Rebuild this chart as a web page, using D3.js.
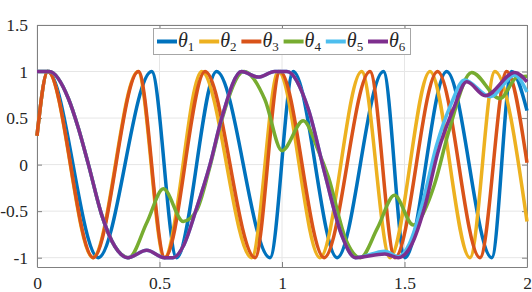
<!DOCTYPE html>
<html>
<head>
<meta charset="utf-8">
<script src="https://cdn.jsdelivr.net/npm/d3@7"></script>
<style>
  body { margin: 0; background: #fff; }
  svg text { font-family: "Liberation Serif", "DejaVu Serif", serif !important; fill: #262626; }
</style>
</head>
<body>
<svg width="532" height="292"></svg>
<script>
// values, [t, value]
const theta1 = [[0,0.31],[0.044,1],[0.25,-1],[0.468,1],[0.57,-1],[0.733,1],[0.951,-1],[1.046,1],
    [1.225,-1],[1.414,1],[1.502,-1],[1.672,1],[1.856,-1],[1.937,1],[2,0.58]];
const theta2 = [[0,0.31],[0.044,1],[0.228,-1],[0.412,1],[0.52,-1],[0.672,1],[0.876,-1],[0.985,1],
    [1.155,-1],[1.325,1],[1.441,-1],[1.604,1],[1.767,-1],[1.869,1],[2,-0.61]];
const theta3 = [[0,0.31],[0.044,1],[0.23,-1],[0.414,1],[0.522,-1],[0.686,1],[0.89,-1],[0.992,1],
    [1.172,-1],[1.359,1],[1.461,-1],[1.635,1],[1.808,-1],[1.917,1],[2,0.02]];
const theta4 = [[0,1],[0.05,1],[0.128,0.71],[0.169,0.39],[0.21,0],[0.264,-0.54],[0.318,-0.88],[0.375,-1],
    [0.449,-0.62],[0.516,-0.26],[0.597,-0.61],[0.65,-0.5],[0.706,-0.02],[0.754,0.48],[0.845,1],[0.93,0.7],
    [1.0,0.15],[1.087,0.47],[1.148,0.15],[1.19,-0.14],[1.26,-0.8],[1.32,-1],[1.39,-0.68],[1.459,-0.33],
    [1.536,-0.65],[1.6,-0.38],[1.624,-0.2],[1.68,0.35],[1.774,0.99],[1.89,0.71],[1.96,0.94],[2,0.95]];
const theta5 = [[0,1],[0.05,1],[0.128,0.71],[0.169,0.39],[0.21,0],[0.264,-0.54],[0.318,-0.88],[0.37,-1],
    [0.448,-0.92],[0.52,-1],[0.555,-1],[0.6,-0.86],[0.65,-0.48],[0.706,0],[0.754,0.5],[0.835,1],
    [0.903,0.94],[0.97,1],[1.02,1],[1.107,0.6],[1.176,-0.11],[1.244,-0.76],[1.3,-1],[1.42,-0.93],
    [1.475,-0.99],[1.52,-0.85],[1.575,-0.4],[1.63,0.2],[1.69,0.65],[1.745,0.91],[1.85,0.73],[1.95,0.96],[2,0.78]];
const theta6 = [[0,1],[0.05,1],[0.128,0.71],[0.169,0.39],[0.21,0],[0.264,-0.54],[0.318,-0.88],[0.37,-1],
    [0.448,-0.92],[0.52,-1],[0.555,-1],[0.6,-0.86],[0.65,-0.48],[0.706,0],[0.754,0.5],[0.835,1],
    [0.903,0.94],[0.97,1],[1.02,1],[1.107,0.6],[1.176,-0.11],[1.244,-0.76],[1.3,-1],[1.42,-0.96],
    [1.475,-1],[1.529,-0.86],[1.584,-0.44],[1.635,0.12],[1.7,0.6],[1.754,0.89],[1.83,0.74],[1.95,0.99],[2,0.89]];

const names = ["1", "2", "3", "4", "5", "6"];
const colors = ["#0072BD", "#EDB120", "#D95319", "#77AC30", "#4DBEEE", "#7E2F8E"];
const xTicks = [0, 0.5, 1, 1.5, 2];
const yTicks = [-1, -0.5, 0, 0.5, 1, 1.5];

const series = [theta1, theta2, theta3, theta4, theta5, theta6];

var svg = d3.select("svg"),
    x0 = 37, x1 = 527, y0 = 25, y1 = 267;

var x = d3.scaleLinear().domain([0, 2]).range([x0, x1]);
var y = d3.scaleLinear().domain([-1.1, 1.5]).range([y1, y0]);

// grid
svg.append("g")
    .selectAll("line")
    .data(xTicks).enter()
    .append("line")
    .attr("x1", d => x(d)).attr("x2", d => x(d))
    .attr("y1", y0).attr("y2", y1)
    .attr("stroke", "#e6e6e6");
svg.append("g")
    .selectAll("line")
    .data(yTicks).enter()
    .append("line")
    .attr("x1", x0).attr("x2", x1)
    .attr("y1", d => y(d)).attr("y2", d => y(d))
    .attr("stroke", "#e6e6e6");

var fmt = d => String(d);

var axes = [
    [d3.axisBottom(x), 0, y1, true],
    [d3.axisTop(x), 0, y0, false],
    [d3.axisLeft(y), x0, 0, true],
    [d3.axisRight(y), x1, 0, false]
];
axes.forEach(([ax, tx, ty, labels], i) => {
    var vals = i < 2 ? xTicks : yTicks;
    var g = svg.append("g")
        .attr("transform", "translate(" + tx + "," + ty + ")")
        .call(ax.tickValues(vals).tickSizeInner(-5).tickSizeOuter(0)
            .tickFormat(labels ? fmt : ""))
        .attr("font-family", null)
        .attr("font-size", null);
    g.select(".domain").attr("stroke", "#808080");
    g.selectAll(".tick line").attr("stroke", "#808080");
    g.selectAll(".tick text")
        .style("font-family", "'Liberation Serif', serif")
        .style("font-size", "17.5px")
        .attr("fill", "#262626");
    if (i === 0) g.selectAll(".tick text").attr("y", 10);
    if (i === 2) g.selectAll(".tick text").attr("x", -9);
});

var line = d3.line()
    .x(d => x(d[0]))
    .y(d => y(d[1]))
    .curve(d3.curveMonotoneX);

svg.append("g")
    .selectAll("path")
    .data(series).enter()
    .append("path")
    .attr("d", d => line(d))
    .attr("fill", "none")
    .attr("stroke", (d, i) => colors[i])
    .attr("stroke-width", 3.5)
    .attr("stroke-linejoin", "round");

// legend
var lg = svg.append("g");
lg.append("rect")
    .attr("x", 153.5).attr("y", 28.5)
    .attr("width", 257).attr("height", 26)
    .attr("fill", "#fff")
    .attr("stroke", "#a6a6a6");

var item = lg.selectAll("g")
    .data(names).enter()
    .append("g")
    .attr("transform", (d, i) => "translate(" + (157 + i * 42.2) + ",0)");
item.append("line")
    .attr("x1", 0).attr("x2", 20)
    .attr("y1", 41.5).attr("y2", 41.5)
    .attr("stroke", (d, i) => colors[i])
    .attr("stroke-width", 4);
var t = item.append("text")
    .attr("x", 21).attr("y", 47)
    .style("font-size", "20px");
t.append("tspan").attr("font-style", "italic").text("θ");
t.append("tspan").style("font-size", "13px").attr("dy", 4).text(d => d);
</script>
</body>
</html>
